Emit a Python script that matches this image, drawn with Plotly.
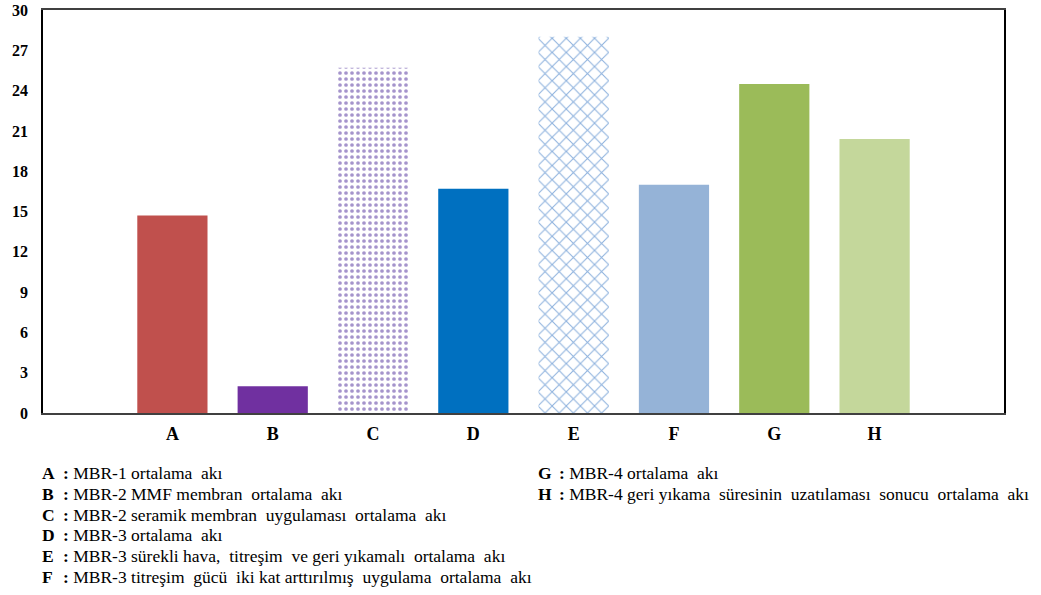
import plotly.graph_objects as go

categories = ["A", "B", "C", "D", "E", "F", "G", "H"]
values = [14.7, 2.0, 25.7, 16.7, 28.0, 17.0, 24.5, 20.4]
colors = ["#C0504D", "#7030A0", "#A594CC", "#0070C0", "#8EB2DE", "#95B3D7", "#9BBB59", "#C4D79B"]
patterned = {"C": ".", "E": "x"}
y_ticks = [0, 3, 6, 9, 12, 15, 18, 21, 24, 27, 30]

legend_left = [
    ("A", "MBR-1 ortalama  akı"),
    ("B", "MBR-2 MMF membran  ortalama  akı"),
    ("C", "MBR-2 seramik membran  uygulaması  ortalama  akı"),
    ("D", "MBR-3 ortalama  akı"),
    ("E", "MBR-3 sürekli hava,  titreşim  ve geri yıkamalı  ortalama  akı"),
    ("F", "MBR-3 titreşim  gücü  iki kat arttırılmış  uygulama  ortalama  akı"),
]
legend_right = [
    ("G", "MBR-4 ortalama  akı"),
    ("H", "MBR-4 geri yıkama  süresinin  uzatılaması  sonucu  ortalama  akı"),
]

W, H = 1041, 595
L, R, T, B = 43, 1004, 10, 413

fig = go.Figure()
for cat, val, col in zip(categories, values, colors):
    shape = patterned.get(cat, "")
    if shape:
        marker = dict(color="#FFFFFF", line=dict(width=0),
                      pattern=dict(shape=shape, fgcolor=col, bgcolor="#FFFFFF",
                                   size=6 if shape == "." else 10,
                                   solidity=0.3 if shape == "." else 0.2,
                                   fillmode="replace"))
    else:
        marker = dict(color=col, line=dict(width=0))
    fig.add_trace(go.Bar(x=[cat], y=[val], width=0.7, marker=marker,
                         showlegend=False, name=cat))

serif = "Liberation Serif, Times New Roman, serif"

fig.update_layout(
    width=W, height=H, barmode="overlay",
    margin=dict(l=L, r=W - R, t=T, b=H - B, autoexpand=False),
    plot_bgcolor="white", paper_bgcolor="white",
    font=dict(family=serif, color="black"),
    xaxis=dict(
        categoryorder="array", categoryarray=categories,
        range=[-1.29, 8.29], showgrid=False, zeroline=False,
        showline=True, linecolor="#404040", linewidth=1.5, mirror=True,
        ticks="", tickfont=dict(family=serif, size=18, color="black", weight="bold"),
        ticklabelstandoff=4,
    ),
    yaxis=dict(
        range=[0, 30], tickvals=y_ticks, showgrid=False, zeroline=False,
        showline=True, linecolor="black", linewidth=1.5, mirror=True,
        ticks="", tickfont=dict(family=serif, size=16, color="black", weight="bold"),
        ticklabelstandoff=10,
    ),
)

def px_x(px):
    return (px - L) / (R - L)

def px_y(py):
    return (B - py) / (B - T)

nb = "\u00a0"

def add_entries(entries, x0, y0, dy):
    for i, (k, txt) in enumerate(entries):
        y = y0 + i * dy
        fig.add_annotation(
            x=px_x(x0), y=px_y(y), xref="paper", yref="paper",
            text=f"<b>{k}</b>", showarrow=False, xanchor="left", yanchor="middle",
            font=dict(family=serif, size=17.5, color="black"),
        )
        fig.add_annotation(
            x=px_x(x0 + 21), y=px_y(y), xref="paper", yref="paper",
            text="<b>:</b>" + nb + txt.replace("  ", nb + nb), showarrow=False,
            xanchor="left", yanchor="middle",
            font=dict(family=serif, size=17.5, color="black"),
        )

add_entries(legend_left, 40, 473, 20.8)
add_entries(legend_right, 536, 473, 20.8)

fig.write_html("out.html")
